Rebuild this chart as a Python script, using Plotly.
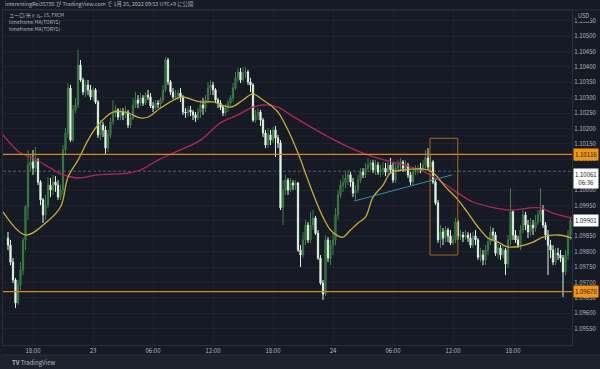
import plotly.graph_objects as go

# ---------------- data (EUR/USD 15m, FXCM) ----------------
bar_index = list(range(226))

opens = [1.09844,1.09821,1.09766,1.09708,1.09633,1.09692,1.09740,1.09838,1.09945,1.10081,
1.10091,1.10071,1.10097,1.10026,1.09968,1.09919,1.09951,1.10016,1.10000,1.10026,
1.10016,1.09977,1.10000,1.10130,1.10185,1.10331,1.10162,1.10260,1.10276,1.10406,
1.10357,1.10318,1.10341,1.10325,1.10302,1.10325,1.10286,1.10179,1.10211,1.10195,
1.10136,1.10179,1.10221,1.10250,1.10260,1.10237,1.10253,1.10244,1.10253,1.10211,
1.10234,1.10276,1.10292,1.10282,1.10299,1.10282,1.10308,1.10302,1.10273,1.10266,
1.10282,1.10279,1.10292,1.10325,1.10422,1.10351,1.10318,1.10302,1.10305,1.10315,
1.10302,1.10253,1.10250,1.10260,1.10253,1.10244,1.10234,1.10253,1.10276,1.10266,
1.10292,1.10331,1.10341,1.10325,1.10292,1.10282,1.10269,1.10250,1.10266,1.10282,
1.10299,1.10331,1.10364,1.10383,1.10357,1.10380,1.10383,1.10351,1.10341,1.10227,
1.10244,1.10253,1.10227,1.10185,1.10146,1.10179,1.10162,1.10195,1.10169,1.10153,
1.09942,1.10000,1.10032,1.10000,1.10023,1.10016,1.10023,1.09805,1.09789,1.09838,
1.09886,1.09838,1.09886,1.09909,1.09860,1.09779,1.09698,1.09662,1.09838,1.09779,
1.09821,1.09838,1.09919,1.09984,1.10016,1.10023,1.10039,1.10049,1.10026,1.09990,
1.10000,1.10032,1.10058,1.10049,1.10071,1.10081,1.10088,1.10065,1.10081,1.10058,
1.10065,1.10071,1.10058,1.10081,1.10065,1.10032,1.10071,1.10081,1.10091,1.10071,
1.10081,1.10049,1.10026,1.10058,1.10065,1.10071,1.10065,1.10081,1.10104,1.10075,
1.10091,1.10026,1.09958,1.09838,1.09864,1.09844,1.09870,1.09851,1.09828,1.09838,
1.09896,1.09851,1.09854,1.09847,1.09854,1.09844,1.09821,1.09851,1.09838,1.09782,
1.09789,1.09773,1.09805,1.09831,1.09864,1.09854,1.09795,1.09812,1.09789,1.09805,
1.09760,1.09838,1.09929,1.09854,1.09838,1.09821,1.09870,1.09919,1.09886,1.09864,
1.09886,1.09877,1.09896,1.09919,1.09935,1.09886,1.09854,1.09821,1.09805,1.09766,
1.09795,1.09789,1.09779,1.09734,1.09789,1.09854]

highs = [1.09864,1.09838,1.09779,1.09714,1.09708,1.09766,1.09844,1.09951,1.10130,1.10114,
1.10130,1.10140,1.10104,1.10032,1.09974,1.09984,1.10042,1.10039,1.10049,1.10045,
1.10032,1.10016,1.10146,1.10201,1.10347,1.10341,1.10276,1.10299,1.10455,1.10422,
1.10364,1.10357,1.10357,1.10341,1.10334,1.10331,1.10292,1.10227,1.10221,1.10208,
1.10195,1.10234,1.10292,1.10276,1.10266,1.10266,1.10266,1.10273,1.10260,1.10244,
1.10299,1.10318,1.10308,1.10315,1.10308,1.10318,1.10325,1.10315,1.10286,1.10292,
1.10292,1.10302,1.10341,1.10432,1.10429,1.10357,1.10331,1.10325,1.10325,1.10331,
1.10308,1.10266,1.10273,1.10273,1.10260,1.10253,1.10266,1.10292,1.10299,1.10308,
1.10351,1.10357,1.10351,1.10331,1.10299,1.10292,1.10276,1.10279,1.10292,1.10308,
1.10347,1.10383,1.10396,1.10396,1.10399,1.10399,1.10390,1.10364,1.10347,1.10260,
1.10266,1.10260,1.10234,1.10195,1.10201,1.10195,1.10205,1.10208,1.10179,1.10162,
1.10032,1.10049,1.10039,1.10039,1.10032,1.10032,1.10026,1.09821,1.09864,1.09903,
1.09896,1.09929,1.09935,1.09916,1.09870,1.09789,1.09708,1.09854,1.09847,1.09838,
1.09864,1.09942,1.10000,1.10032,1.10049,1.10058,1.10065,1.10058,1.10039,1.10016,
1.10049,1.10071,1.10071,1.10088,1.10104,1.10097,1.10097,1.10097,1.10091,1.10081,
1.10091,1.10088,1.10097,1.10104,1.10088,1.10088,1.10097,1.10104,1.10097,1.10097,
1.10088,1.10058,1.10071,1.10081,1.10081,1.10088,1.10097,1.10130,1.10136,1.10114,
1.10097,1.10032,1.09968,1.09886,1.09877,1.09883,1.09877,1.09870,1.09854,1.09909,
1.09903,1.09870,1.09864,1.09870,1.09864,1.09860,1.09864,1.09870,1.09844,1.09812,
1.09805,1.09821,1.09844,1.09883,1.09877,1.09864,1.09825,1.09821,1.09821,1.09812,
1.09854,1.10006,1.09935,1.09870,1.09851,1.09886,1.09935,1.09929,1.09903,1.09909,
1.09903,1.09919,1.09935,1.10006,1.09951,1.09896,1.09870,1.09838,1.09821,1.09812,
1.09812,1.09805,1.09789,1.09805,1.09870,1.09909]

lows = [1.09805,1.09756,1.09698,1.09617,1.09627,1.09675,1.09724,1.09805,1.09903,1.10058,
1.10049,1.10058,1.10016,1.09951,1.09893,1.09903,1.09942,1.09977,1.09984,1.09994,
1.09968,1.09968,1.09984,1.10114,1.10169,1.10156,1.10156,1.10250,1.10266,1.10351,
1.10308,1.10302,1.10308,1.10292,1.10292,1.10279,1.10169,1.10162,1.10172,1.10114,
1.10123,1.10169,1.10211,1.10237,1.10227,1.10227,1.10227,1.10234,1.10201,1.10201,
1.10227,1.10266,1.10266,1.10273,1.10273,1.10276,1.10292,1.10266,1.10253,1.10260,
1.10266,1.10266,1.10282,1.10318,1.10341,1.10308,1.10295,1.10292,1.10292,1.10286,
1.10244,1.10234,1.10237,1.10240,1.10227,1.10221,1.10227,1.10234,1.10244,1.10253,
1.10282,1.10308,1.10308,1.10282,1.10266,1.10260,1.10240,1.10240,1.10253,1.10266,
1.10286,1.10325,1.10351,1.10347,1.10351,1.10364,1.10341,1.10318,1.10221,1.10218,
1.10227,1.10208,1.10172,1.10136,1.10136,1.10146,1.10153,1.10107,1.10136,1.09935,
1.09886,1.09984,1.09984,1.09994,1.10000,1.10000,1.09799,1.09750,1.09779,1.09821,
1.09828,1.09828,1.09870,1.09854,1.09773,1.09692,1.09643,1.09656,1.09766,1.09756,
1.09789,1.09821,1.09903,1.09974,1.09994,1.10006,1.10016,1.10010,1.09977,1.09968,
1.09990,1.10023,1.10039,1.10039,1.10058,1.10065,1.10055,1.10049,1.10049,1.10042,
1.10049,1.10045,1.10049,1.10055,1.10023,1.10023,1.10058,1.10065,1.10058,1.10058,
1.10039,1.10016,1.10016,1.10049,1.10052,1.10055,1.10058,1.10071,1.10065,1.10065,
1.10019,1.09951,1.09828,1.09812,1.09821,1.09831,1.09831,1.09821,1.09821,1.09828,
1.09838,1.09838,1.09831,1.09838,1.09831,1.09812,1.09812,1.09821,1.09773,1.09766,
1.09756,1.09756,1.09789,1.09821,1.09838,1.09786,1.09779,1.09773,1.09779,1.09724,
1.09747,1.09821,1.09838,1.09828,1.09812,1.09805,1.09860,1.09870,1.09844,1.09851,
1.09854,1.09864,1.09886,1.09896,1.09877,1.09838,1.09724,1.09779,1.09756,1.09756,
1.09773,1.09766,1.09653,1.09724,1.09773,1.09838]

closes = [1.09821,1.09766,1.09708,1.09633,1.09692,1.09740,1.09838,1.09945,1.10081,1.10091,
1.10071,1.10097,1.10026,1.09968,1.09919,1.09951,1.10016,1.10000,1.10026,1.10016,
1.09977,1.10000,1.10130,1.10185,1.10331,1.10162,1.10260,1.10276,1.10406,1.10357,
1.10318,1.10341,1.10325,1.10302,1.10325,1.10286,1.10179,1.10211,1.10195,1.10136,
1.10179,1.10221,1.10250,1.10260,1.10237,1.10253,1.10244,1.10253,1.10211,1.10234,
1.10276,1.10292,1.10282,1.10299,1.10282,1.10308,1.10302,1.10273,1.10266,1.10282,
1.10279,1.10292,1.10325,1.10422,1.10351,1.10318,1.10302,1.10305,1.10315,1.10302,
1.10253,1.10250,1.10260,1.10253,1.10244,1.10234,1.10253,1.10276,1.10266,1.10292,
1.10331,1.10341,1.10325,1.10292,1.10282,1.10269,1.10250,1.10266,1.10282,1.10299,
1.10331,1.10364,1.10383,1.10357,1.10380,1.10383,1.10351,1.10341,1.10227,1.10244,
1.10253,1.10227,1.10185,1.10146,1.10179,1.10162,1.10195,1.10169,1.10153,1.09942,
1.10000,1.10032,1.10000,1.10023,1.10016,1.10023,1.09805,1.09789,1.09838,1.09886,
1.09838,1.09886,1.09909,1.09860,1.09779,1.09698,1.09662,1.09838,1.09779,1.09821,
1.09838,1.09919,1.09984,1.10016,1.10023,1.10039,1.10049,1.10026,1.09990,1.10000,
1.10032,1.10058,1.10049,1.10071,1.10081,1.10088,1.10065,1.10081,1.10058,1.10065,
1.10071,1.10058,1.10081,1.10065,1.10032,1.10071,1.10081,1.10091,1.10071,1.10081,
1.10049,1.10026,1.10058,1.10065,1.10071,1.10065,1.10081,1.10104,1.10075,1.10091,
1.10026,1.09958,1.09838,1.09864,1.09844,1.09870,1.09851,1.09828,1.09838,1.09896,
1.09851,1.09854,1.09847,1.09854,1.09844,1.09821,1.09851,1.09838,1.09782,1.09789,
1.09773,1.09805,1.09831,1.09864,1.09854,1.09795,1.09812,1.09789,1.09805,1.09760,
1.09838,1.09929,1.09854,1.09838,1.09821,1.09870,1.09919,1.09886,1.09864,1.09886,
1.09877,1.09896,1.09919,1.09935,1.09886,1.09854,1.09821,1.09805,1.09766,1.09795,
1.09789,1.09779,1.09734,1.09789,1.09854,1.09901]

# timeframe MA (yellow) read at sample bars
ma1_bars = [-2, 7, 15, 21, 24, 28, 32, 36, 42, 47, 53, 56, 61, 68, 70, 77, 82, 89, 94, 98,
            102, 106, 108, 112, 116, 120, 123, 126, 129, 132, 134, 137, 140, 143, 146, 150,
            153, 158, 168, 171, 175, 180, 184, 188, 192, 196, 200, 205, 210, 214, 220, 225.6]
ma1_vals = [1.09929, 1.09854, 1.09893, 1.09945, 1.10042, 1.10097, 1.10162, 1.10211, 1.10253,
            1.10253, 1.10234, 1.10237, 1.10266, 1.10299, 1.10302, 1.10286, 1.10286, 1.10269,
            1.10292, 1.10312, 1.10292, 1.10269, 1.10253, 1.10195, 1.10120, 1.10032, 1.09968,
            1.09912, 1.09870, 1.09851, 1.09847, 1.09870, 1.09893, 1.09912, 1.09977, 1.10016,
            1.10055, 1.10065, 1.10065, 1.10049, 1.10010, 1.09968, 1.09925, 1.09880, 1.09844,
            1.09831, 1.09815, 1.09818, 1.09831, 1.09847, 1.09854, 1.09844]

# timeframe MA (crimson) read at sample bars
ma2_bars = [-2, 5, 10, 17, 22, 28, 36, 48, 53, 60, 66, 77, 85, 92, 97, 102, 108, 113, 121,
            129, 136, 142, 149, 157, 165, 171, 180, 186, 193, 201, 209, 213, 218, 225.6]
ma2_vals = [1.10179, 1.10120, 1.10104, 1.10071, 1.10049, 1.10039, 1.10049, 1.10055, 1.10065,
            1.10097, 1.10120, 1.10162, 1.10218, 1.10244, 1.10266, 1.10276, 1.10269, 1.10244,
            1.10205, 1.10169, 1.10140, 1.10120, 1.10101, 1.10084, 1.10065, 1.10039, 1.09990,
            1.09961, 1.09945, 1.09935, 1.09942, 1.09942, 1.09925, 1.09909]

tick_bars = [10, 34, 58, 82, 106, 130, 154, 178, 202]
tick_text = ["18:00", "23", "06:00", "12:00", "18:00", "24", "06:00", "12:00", "18:00"]

price_ticks = [1.0955, 1.0960, 1.0965, 1.0970, 1.0975, 1.0980, 1.0985, 1.0990, 1.0995,
               1.1000, 1.1005, 1.1010, 1.1015, 1.1020, 1.1025, 1.1030, 1.1035, 1.1040,
               1.1045, 1.1050, 1.1055]

level_high = 1.10116
level_low = 1.09670
level_mid = 1.10061
last_close = 1.09901
trend_bars = [138.4, 177.6]
trend_vals = [1.09964, 1.10049]
box_bars = [168.8, 179.9]
box_vals = [1.09789, 1.10168]

# ---------------- style ----------------
BG = "#161a25"
GRID = "#1e222d"
TXT = "#b2b5be"
ORANGE = "#d9861a"
FONT = "Noto Sans CJK JP"

fig = go.Figure()

fig.add_trace(go.Candlestick(
    x=bar_index, open=opens, high=highs, low=lows, close=closes,
    increasing=dict(line=dict(color="#3d7d46", width=1), fillcolor="#2b5e33"),
    decreasing=dict(line=dict(color="#dcf3df", width=1), fillcolor="#eafaec"),
    whiskerwidth=0, showlegend=False, hoverinfo="skip",
))

fig.add_trace(go.Scatter(x=ma2_bars, y=ma2_vals, mode="lines",
                         line=dict(color="#b5245a", width=1.3, shape="spline", smoothing=1.0),
                         showlegend=False, hoverinfo="skip"))
fig.add_trace(go.Scatter(x=ma1_bars, y=ma1_vals, mode="lines",
                         line=dict(color="#c2ad35", width=1.3, shape="spline", smoothing=1.0),
                         showlegend=False, hoverinfo="skip"))
fig.add_trace(go.Scatter(x=trend_bars, y=trend_vals, mode="lines",
                         line=dict(color="#2b93ad", width=1),
                         showlegend=False, hoverinfo="skip"))

shapes = []
for lv in (level_high, level_low):
    shapes.append(dict(type="line", xref="paper", x0=0, x1=1, yref="y", y0=lv, y1=lv,
                       line=dict(color=ORANGE, width=1.2), layer="above"))
shapes.append(dict(type="line", xref="paper", x0=0, x1=1, yref="y", y0=level_mid, y1=level_mid,
                   line=dict(color="#5a5e69", width=1, dash="3px,2px"), layer="below"))
shapes.append(dict(type="rect", xref="x", x0=box_bars[0], x1=box_bars[1], yref="y",
                   y0=box_vals[0], y1=box_vals[1],
                   line=dict(color="#a8681c", width=1), fillcolor="rgba(0,0,0,0)"))
# footer band
shapes.append(dict(type="rect", xref="paper", x0=-0.01, x1=1.06, yref="paper", y0=-0.08, y1=-0.0299,
                   line=dict(width=0), fillcolor="#1e222d", layer="below"))
shapes.append(dict(type="line", xref="paper", x0=0, x1=1.06, yref="paper", y0=-0.0299, y1=-0.0299,
                   line=dict(color="#2a2e39", width=1)))
# header border
shapes.append(dict(type="line", xref="paper", x0=0, x1=1.06, yref="paper", y0=1, y1=1,
                   line=dict(color="#2a2e39", width=1)))

annotations = []
def price_label(val, text, bg, fg, yanchor="middle"):
    annotations.append(dict(xref="paper", x=1.0, xanchor="left", yref="y", y=val, yanchor=yanchor,
                            text=text, showarrow=False, bgcolor=bg,
                            font=dict(family=FONT, size=6, color=fg),
                            borderpad=1, align="center", xshift=1))

price_label(level_high, "1.10116", "#f5960f", "#131722")
price_label(level_low, "1.09670", "#f5960f", "#131722")
price_label(level_mid + 0.00010, "1.10061<br>06:36", "#ffffff", "#131722", yanchor="top")
price_label(last_close, "1.09901", "#ffffff", "#131722")

annotations.append(dict(xref="paper", yref="paper", x=0.0, y=1.019, xanchor="left", yanchor="middle",
                        text="interestingRei35786 が TradingView.com で 1月 25, 2022 09:53 UTC+9 に公開",
                        showarrow=False, font=dict(family=FONT, size=5.4, color=TXT)))
for k, t in enumerate(["ユーロ/米ドル, 15, FXCM", "timeframe MA(TORYS)", "timeframe MA(TORYS)"]):
    annotations.append(dict(xref="paper", yref="paper", x=0.007, y=0.985 - 0.0205 * k,
                            xanchor="left", yanchor="middle", text=t, showarrow=False,
                            font=dict(family=FONT, size=5, color=TXT)))
annotations.append(dict(xref="paper", yref="paper", x=1.021, y=0.983, xanchor="center",
                        yanchor="middle", text="USD", showarrow=False, bgcolor=BG,
                        font=dict(family=FONT, size=5.5, color=TXT)))
annotations.append(dict(xref="paper", yref="paper", x=0.012, y=-0.053, xanchor="left",
                        yanchor="middle", text="<b>TV</b> TradingView", showarrow=False,
                        font=dict(family=FONT, size=6, color=TXT)))

fig.update_layout(
    width=600, height=369,
    margin=dict(l=3, r=28, t=10, b=24),
    paper_bgcolor=BG, plot_bgcolor=BG,
    shapes=shapes, annotations=annotations,
    showlegend=False,
    xaxis=dict(range=[-2, 225.6], tickvals=tick_bars, ticktext=tick_text,
               showgrid=True, gridcolor=GRID, gridwidth=1, zeroline=False,
               rangeslider=dict(visible=False), ticks="", ticklen=0,
               tickfont=dict(family=FONT, size=6, color=TXT),
               showline=True, linecolor="#2a2e39", mirror=True, fixedrange=True),
    yaxis=dict(range=[1.094968, 1.105844], side="right", tickvals=price_ticks,
               ticktext=["%.5f" % v for v in price_ticks],
               showgrid=True, gridcolor=GRID, gridwidth=1, zeroline=False,
               ticks="", tickfont=dict(family=FONT, size=6, color=TXT),
               showline=True, linecolor="#2a2e39", mirror=True, fixedrange=True),
)

fig.write_html("out.html", config={"displayModeBar": False},
               post_script="document.body.style.margin='0';document.body.style.background='#161a25';")
